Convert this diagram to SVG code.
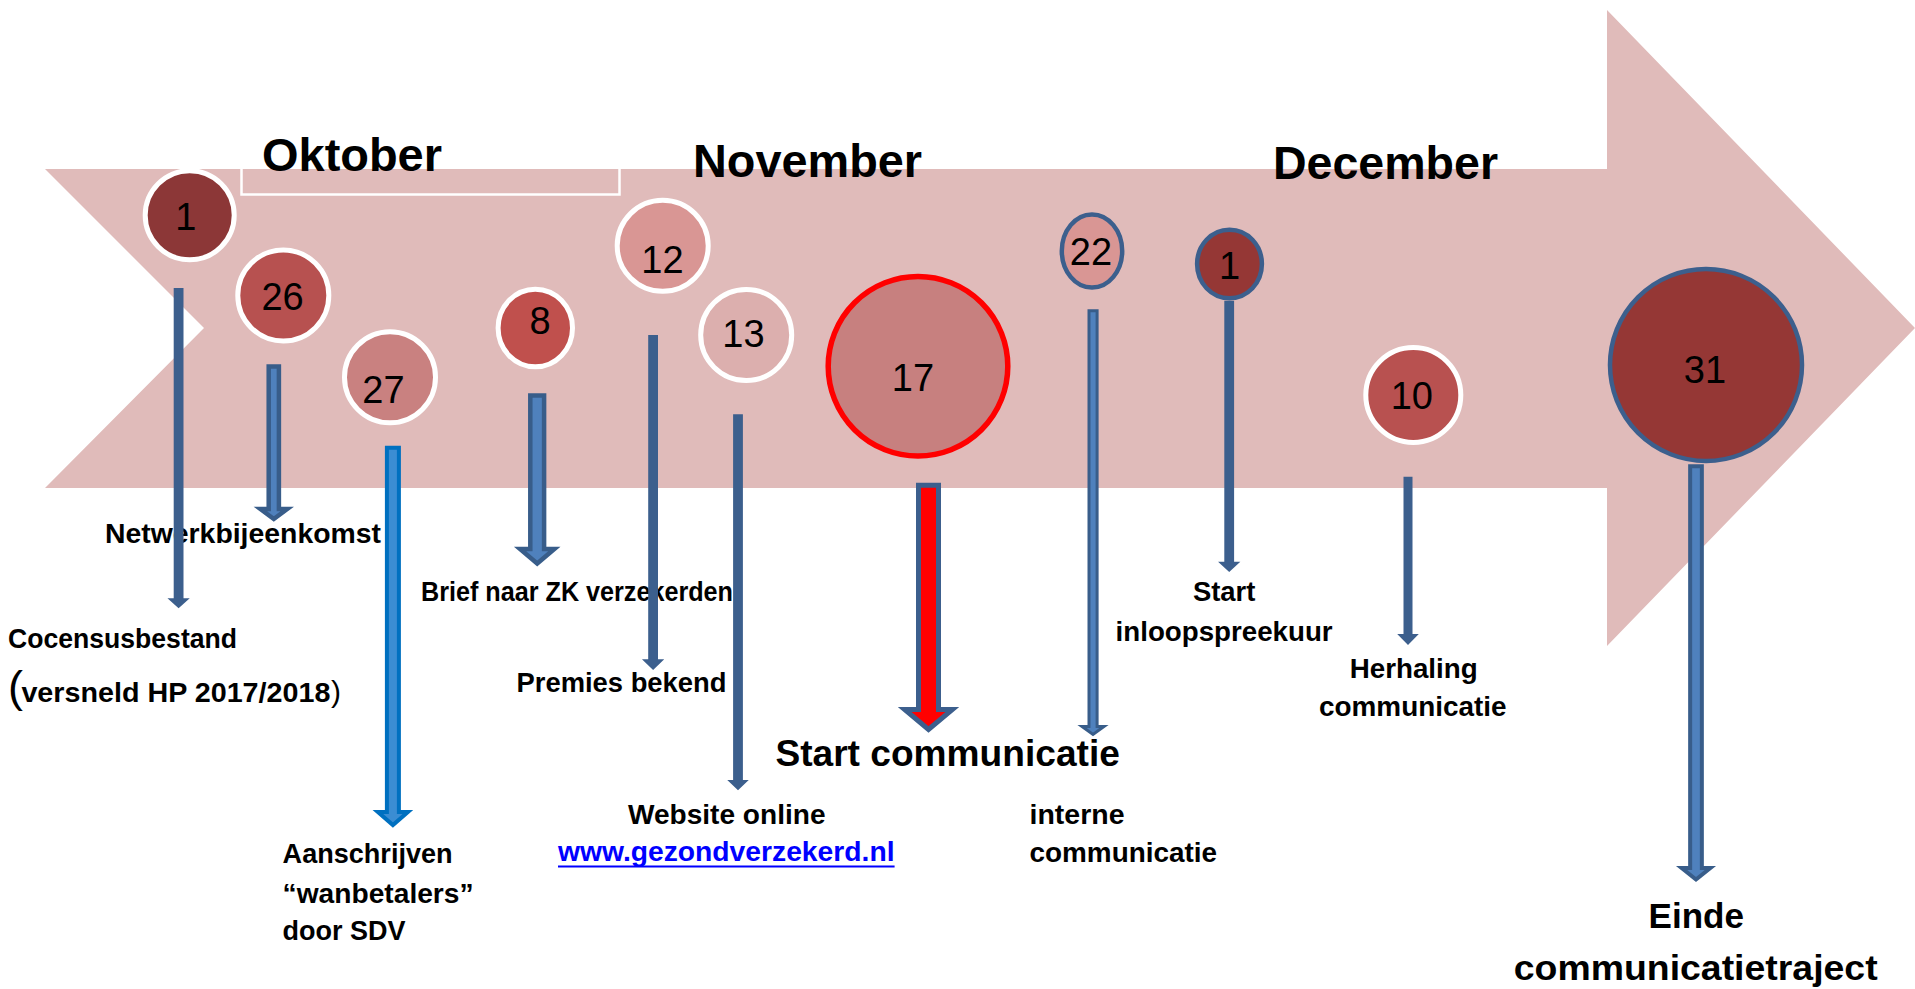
<svg xmlns="http://www.w3.org/2000/svg" width="1915" height="989" viewBox="0 0 1915 989">
<defs>
<style>
.lbl{font-family:"Liberation Sans",Arial,sans-serif;font-weight:bold;font-size:28px;fill:#000;}
.mon{font-family:"Liberation Sans",Arial,sans-serif;font-weight:bold;font-size:47px;fill:#000;}
.big{font-family:"Liberation Sans",Arial,sans-serif;font-weight:bold;font-size:37px;fill:#000;}
.num{font-family:"Liberation Sans",Arial,sans-serif;font-size:38px;fill:#000;text-anchor:middle;}
.wring{stroke:#FFFFFF;stroke-width:5;}
.bring{stroke:#3C5F8D;stroke-width:4.5;}
.solid{fill:#3C5F8D;}
.grad{fill:#4F81BD;stroke:#385D8A;stroke-linejoin:miter;}
</style>
</defs>
<rect width="1915" height="989" fill="#FFFFFF"/>
<g id="timeline-arrow">
<polygon points="45,169 1607,169 1607,10 1915,328 1607,646 1607,488 45,488 204,328" fill="#E0BBBA"/>
<rect x="241.5" y="167" width="378" height="27.5" fill="none" stroke="#FFFFFF" stroke-width="2.5"/>
</g>
<g id="months">
<text class="mon" x="262" y="171" textLength="180" lengthAdjust="spacingAndGlyphs">Oktober</text>
<text class="mon" x="693" y="177" textLength="229" lengthAdjust="spacingAndGlyphs">November</text>
<text class="mon" x="1273" y="178.5" textLength="225" lengthAdjust="spacingAndGlyphs">December</text>
</g>
<g id="labels">
<g id="label-netwerk"><text class="lbl" x="105" y="542.7" textLength="276" lengthAdjust="spacingAndGlyphs">Netwerkbijeenkomst</text></g>
<g id="label-cocensus">
<text class="lbl" x="8" y="648.3" textLength="229" lengthAdjust="spacingAndGlyphs">Cocensusbestand</text>
<text class="lbl" x="8" y="702"><tspan font-size="45" font-weight="normal">(</tspan><tspan x="21.4" textLength="309" lengthAdjust="spacingAndGlyphs">versneld HP 2017/2018</tspan><tspan x="331" font-size="30" font-weight="normal">)</tspan></text>
</g>
<g id="label-aanschrijven">
<text class="lbl" x="282.6" y="863.3" textLength="170" lengthAdjust="spacingAndGlyphs">Aanschrijven</text>
<text class="lbl" x="282.6" y="902.7" textLength="191" lengthAdjust="spacingAndGlyphs">“wanbetalers”</text>
<text class="lbl" x="282.6" y="940" textLength="123" lengthAdjust="spacingAndGlyphs">door SDV</text>
</g>
<g id="label-brief"><text class="lbl" x="421" y="600.7" textLength="312" lengthAdjust="spacingAndGlyphs">Brief naar ZK verzekerden</text></g>
<g id="label-premies"><text class="lbl" x="516.5" y="691.7" textLength="210" lengthAdjust="spacingAndGlyphs">Premies bekend</text></g>
<g id="label-website">
<text class="lbl" x="628" y="824" textLength="197.5" lengthAdjust="spacingAndGlyphs">Website online</text>
<text class="lbl" x="558" y="860.8" textLength="336.5" lengthAdjust="spacingAndGlyphs" style="fill:#0000FF">www.gezondverzekerd.nl</text>
<line x1="558" y1="866.5" x2="894.6" y2="866.5" stroke="#0000FF" stroke-width="2"/>
</g>
<g id="label-start-communicatie"><text class="big" x="775.4" y="765.6" textLength="344.5" lengthAdjust="spacingAndGlyphs">Start communicatie</text></g>
<g id="label-interne">
<text class="lbl" x="1029.5" y="824" textLength="95" lengthAdjust="spacingAndGlyphs">interne</text>
<text class="lbl" x="1029.5" y="861.8" textLength="187.5" lengthAdjust="spacingAndGlyphs">communicatie</text>
</g>
<g id="label-inloop">
<text class="lbl" x="1192.9" y="601.3" textLength="62.5" lengthAdjust="spacingAndGlyphs">Start</text>
<text class="lbl" x="1115.6" y="640.8" textLength="217" lengthAdjust="spacingAndGlyphs">inloopspreekuur</text>
</g>
<g id="label-herhaling">
<text class="lbl" x="1349.7" y="677.7" textLength="128" lengthAdjust="spacingAndGlyphs">Herhaling</text>
<text class="lbl" x="1319" y="715.7" textLength="187.6" lengthAdjust="spacingAndGlyphs">communicatie</text>
</g>
<g id="label-einde">
<text class="big" x="1648.6" y="928.3" style="font-size:35px" textLength="95.4" lengthAdjust="spacingAndGlyphs">Einde</text>
<text class="big" x="1513.8" y="980" style="font-size:35px" textLength="363.8" lengthAdjust="spacingAndGlyphs">communicatietraject</text>
</g>
</g>
<g id="connectors">
<polygon class="solid" points="173.7,288 183.5,288 183.5,598.3 189.75,598.3 178.6,608.3 167.45,598.3 173.7,598.3"/>
<polygon class="grad" stroke-width="4.5" points="268.7,366.5 278.9,366.5 278.9,509 287.2,509 273.8,519 260.4,509 268.7,509"/>
<polygon class="grad" stroke-width="4" style="fill:#3B8DD3;stroke:#0070C0" points="386.9,447.7 398.9,447.7 398.9,812 407.9,812 392.9,825 377.9,812 386.9,812"/>
<polygon class="grad" stroke-width="4.5" points="530.3,395.5 544.1,395.5 544.1,549 554.35,549 537.2,563.5 520.05,549 530.3,549"/>
<polygon class="solid" points="648.2,335 658,335 658,659.3 664.25,659.3 653.1,670 641.95,659.3 648.2,659.3"/>
<polygon class="solid" points="733.1,414.3 742.9,414.3 742.9,780 748.75,780 738,790.3 727.25,780 733.1,780"/>
<polygon class="grad" stroke-width="5" style="fill:#FF0000;stroke:#3C5F8D" points="918.5,485.2 938.5,485.2 938.5,709.5 952.35,709.5 928.5,729.5 904.65,709.5 918.5,709.5"/>
<polygon class="grad" stroke-width="3" points="1089,310.8 1097.1,310.8 1097.1,726.5 1104,726.5 1093,734.5 1082,726.5 1089,726.5"/>
<polygon class="solid" points="1224.3,300.7 1234.1,300.7 1234.1,561.7 1240.35,561.7 1229.2,572 1218.05,561.7 1224.3,561.7"/>
<polygon class="solid" points="1403.5,476.8 1412.5,476.8 1412.5,634 1418.8,634 1408,645 1397.2,634 1403.5,634"/>
<polygon class="grad" stroke-width="4" points="1690.15,466.3 1701.85,466.3 1701.85,868 1710.35,868 1696,879.5 1681.65,868 1690.15,868"/>
</g>
<g id="node-okt-1"><circle class="wring" cx="189.7" cy="215.3" r="44.5" fill="#8C3737"/><text class="num" x="185.7" y="230">1</text></g>
<g id="node-okt-26"><circle class="wring" cx="283.3" cy="295.5" r="45.5" fill="#B75150"/><text class="num" x="282.6" y="310">26</text></g>
<g id="node-okt-27"><circle class="wring" cx="390" cy="377.3" r="45.5" fill="#C98180"/><text class="num" x="383.5" y="403.3">27</text></g>
<g id="node-nov-8"><ellipse class="wring" cx="535.3" cy="328" rx="37.2" ry="38.8" fill="#C0504D"/><text class="num" x="540" y="334.3">8</text></g>
<g id="node-nov-12"><circle class="wring" cx="662.7" cy="245.8" r="45.5" fill="#D99694"/><text class="num" x="662.5" y="272.7">12</text></g>
<g id="node-nov-13"><circle class="wring" cx="746.2" cy="335" r="45.5" fill="#DCAFAE"/><text class="num" x="743.5" y="346.7">13</text></g>
<g id="node-nov-17"><circle cx="918" cy="366.3" r="89.8" fill="#C7807F" stroke="#FF0000" stroke-width="5.5"/><text class="num" x="913" y="390.7">17</text></g>
<g id="node-nov-22"><ellipse class="bring" cx="1092" cy="251" rx="30.2" ry="36.6" fill="#D99694"/><text class="num" x="1091" y="265">22</text></g>
<g id="node-dec-1"><ellipse class="bring" cx="1229.5" cy="264" rx="32.4" ry="34.2" fill="#953735"/><text class="num" x="1229.5" y="279.3">1</text></g>
<g id="node-dec-10"><circle class="wring" cx="1413.3" cy="395" r="47.5" fill="#B85150"/><text class="num" x="1411.8" y="408.5">10</text></g>
<g id="node-dec-31"><circle class="bring" cx="1706" cy="365" r="96" fill="#953735"/><text class="num" x="1705" y="383">31</text></g>
</svg>
